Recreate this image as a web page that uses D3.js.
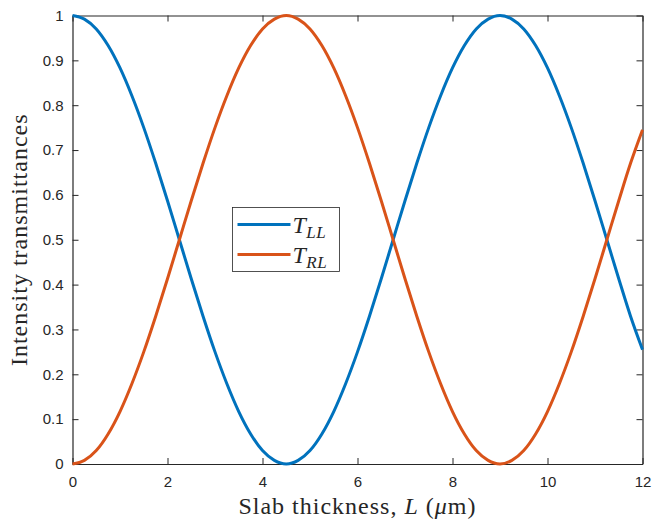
<!DOCTYPE html>
<html>
<head>
<meta charset="utf-8">
<script src="https://cdn.jsdelivr.net/npm/d3@7"></script>
<style>
  body { margin: 0; background: #fff; }
  .lab { font-family: "Liberation Serif", "Times New Roman", serif; font-size: 24px; letter-spacing: 1px; fill: #262626; }
</style>
</head>
<body>
<div id="chart"></div>
<script>
const width = 653;
const height = 520;

// slab thickness L (um), read every 0.25
const thickness = [
  0, 0.25, 0.5, 0.75, 1, 1.25, 1.5, 1.75, 2, 2.25, 2.5, 2.75, 3, 3.25, 3.5, 3.75,
  4, 4.25, 4.5, 4.75, 5, 5.25, 5.5, 5.75, 6, 6.25, 6.5, 6.75, 7, 7.25, 7.5, 7.75,
  8, 8.25, 8.5, 8.75, 9, 9.25, 9.5, 9.75, 10, 10.25, 10.5, 10.75, 11, 11.25, 11.5, 11.75, 12
];

const tLL = [
  1.000, 0.992, 0.970, 0.933, 0.883, 0.821, 0.750, 0.671, 0.587, 0.500, 0.413, 0.329, 0.250, 0.179, 0.117, 0.067,
  0.030, 0.008, 0.000, 0.008, 0.030, 0.067, 0.117, 0.179, 0.250, 0.329, 0.413, 0.500, 0.587, 0.671, 0.750, 0.821,
  0.883, 0.933, 0.970, 0.992, 1.000, 0.992, 0.970, 0.933, 0.883, 0.821, 0.750, 0.671, 0.587, 0.500, 0.413, 0.329, 0.255
];

const tRL = [
  0.000, 0.008, 0.030, 0.067, 0.117, 0.179, 0.250, 0.329, 0.413, 0.500, 0.587, 0.671, 0.750, 0.821, 0.883, 0.933,
  0.970, 0.992, 1.000, 0.992, 0.970, 0.933, 0.883, 0.821, 0.750, 0.671, 0.587, 0.500, 0.413, 0.329, 0.250, 0.179,
  0.117, 0.067, 0.030, 0.008, 0.000, 0.008, 0.030, 0.067, 0.117, 0.179, 0.250, 0.329, 0.413, 0.500, 0.587, 0.671, 0.745
];

const xTicks = [0, 2, 4, 6, 8, 10, 12];
const yTicks = [0, 0.1, 0.2, 0.3, 0.4, 0.5, 0.6, 0.7, 0.8, 0.9, 1];

const series = [
  {name: "LL", values: tLL, color: "#0072BD"},
  {name: "RL", values: tRL, color: "#D95319"}
];

const margin = {left: 72.5, right: 10.5, top: 15.5, bottom: 56};

const x = d3.scaleLinear().domain([0, 12]).range([margin.left, width - margin.right]);
const y = d3.scaleLinear().domain([0, 1]).range([height - margin.bottom, margin.top]);

const svg = d3.select("#chart")
  .append("svg")
  .attr("width", width)
  .attr("height", height);

const tickLen = 6;

// axes (ticks point inward, box on all four sides)
const gx = svg.append("g")
  .attr("transform", `translate(0,${y(0)})`)
  .call(d3.axisBottom(x).tickValues(xTicks).tickFormat(d3.format("d")).tickSizeInner(-tickLen).tickSizeOuter(0).tickPadding(12));
const gy = svg.append("g")
  .attr("transform", `translate(${x(0)},0)`)
  .call(d3.axisLeft(y).tickValues(yTicks).tickFormat(d => d === 0 || d === 1 ? d3.format("d")(d) : d3.format(".1f")(d)).tickSizeInner(-tickLen).tickSizeOuter(0).tickPadding(9));
const gxt = svg.append("g")
  .attr("transform", `translate(0,${y(1)})`)
  .call(d3.axisTop(x).tickValues(xTicks).tickFormat("").tickSizeInner(-tickLen).tickSizeOuter(0));
const gyr = svg.append("g")
  .attr("transform", `translate(${x(12)},0)`)
  .call(d3.axisRight(y).tickValues(yTicks).tickFormat("").tickSizeInner(-tickLen).tickSizeOuter(0));

[gx, gy, gxt, gyr].forEach(g => {
  g.selectAll(".domain").attr("stroke", "#262626").attr("stroke-width", 1.2);
  g.selectAll(".tick line").attr("stroke", "#262626");
  g.selectAll(".tick text")
    .attr("font-family", "'Liberation Sans', Arial, sans-serif")
    .attr("font-size", 15)
    .attr("fill", "#262626");
});

// curves
const line = d3.line()
  .x((d, i) => x(thickness[i]))
  .y(d => y(d))
  .curve(d3.curveMonotoneX);

svg.append("g")
  .selectAll("path")
  .data(series)
  .join("path")
  .attr("fill", "none")
  .attr("stroke", d => d.color)
  .attr("stroke-width", 3)
  .attr("d", d => line(d.values));

// axis labels
const xl = svg.append("text")
  .attr("class", "lab")
  .attr("x", (x(0) + x(12)) / 2)
  .attr("y", 514)
  .attr("text-anchor", "middle");
xl.append("tspan").text("Slab thickness, ");
xl.append("tspan").attr("font-style", "italic").text("L");
xl.append("tspan").text(" (");
xl.append("tspan").attr("font-style", "italic").text("μ");
xl.append("tspan").text("m)");

svg.append("text")
  .attr("class", "lab")
  .attr("transform", `translate(27,${(y(0) + y(1)) / 2}) rotate(-90)`)
  .attr("text-anchor", "middle")
  .text("Intensity transmittances");

// legend
const legend = svg.append("g").attr("transform", "translate(232.5,207.5)");
legend.append("rect")
  .attr("width", 107)
  .attr("height", 64)
  .attr("fill", "#fff")
  .attr("stroke", "#262626")
  .attr("stroke-width", 0.8);

const item = legend.selectAll("g.item")
  .data(series)
  .join("g")
  .attr("class", "item")
  .attr("transform", (d, i) => `translate(0,${17 + i * 30})`);

item.append("line")
  .attr("x1", 5).attr("x2", 58)
  .attr("stroke", d => d.color)
  .attr("stroke-width", 3);

const lt = item.append("text")
  .attr("class", "lab")
  .attr("x", 60)
  .attr("y", 8)
  .style("letter-spacing", "0.5px");
lt.append("tspan").attr("font-style", "italic").attr("font-size", "24px").text("T");
lt.append("tspan").attr("font-style", "italic").attr("font-size", "17px").attr("dy", 5).text(d => d.name);
</script>
</body>
</html>
